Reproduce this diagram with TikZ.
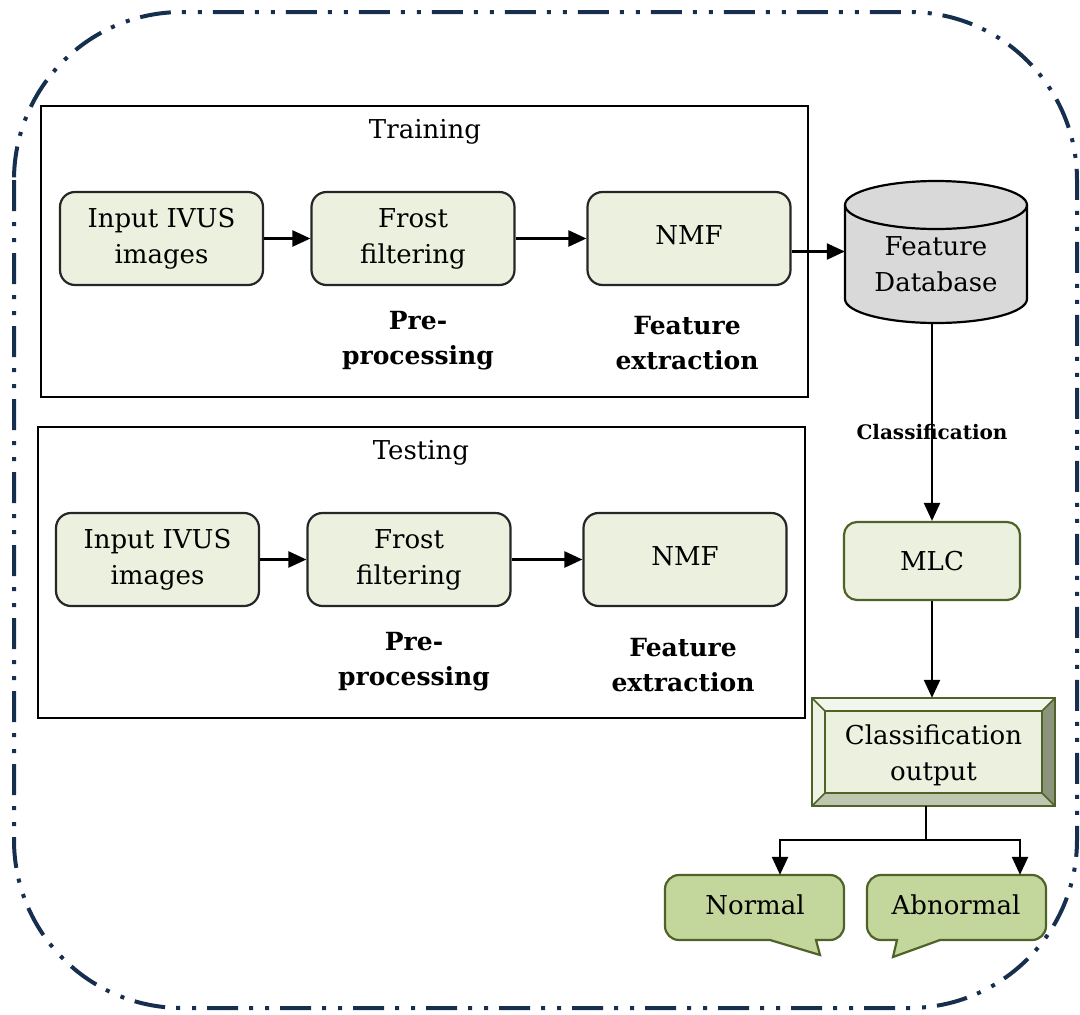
\documentclass[tikz,border=0pt]{standalone}
\usepackage{fontspec}
\setmainfont{DejaVu Serif}
\usetikzlibrary{arrows.meta}
\definecolor{navy}{HTML}{172F4F}
\definecolor{lightgreen}{HTML}{EBF1DE}
\definecolor{olive}{HTML}{4F6228}
\definecolor{calloutgreen}{HTML}{C3D69B}
\definecolor{dbgray}{HTML}{D9D9D9}
\definecolor{bevtop}{HTML}{F3F6EC}
\definecolor{bevleft}{HTML}{EFF3E6}
\definecolor{bevright}{HTML}{8C947E}
\definecolor{bevbottom}{HTML}{BEC6AF}
\begin{document}
\begin{tikzpicture}[x=1pt,y=-1pt,
  txt/.style={font=\fontsize{26}{36}\selectfont, align=center, inner sep=0pt},
  bold/.style={font=\fontsize{25}{35}\selectfont\bfseries, align=center, inner sep=0pt},
  procbox/.style={txt, draw=black!85, line width=2.2pt, fill=lightgreen, rounded corners=15pt, minimum width=203pt, minimum height=93pt},
  frame/.style={draw=black, line width=2pt, minimum width=767pt, minimum height=291pt, inner sep=0pt},
  arr/.style={line width=2.4pt, -{Triangle[length=18pt,width=16pt]}},
  ln/.style={line width=2.4pt},
  callout/.style={draw=olive, line width=2.2pt, fill=calloutgreen},
]
\useasboundingbox (0,0) rectangle (1080,1015);

% outer dash-dot-dot border
\draw[navy, line width=4pt, rounded corners=168pt,
  dash pattern=on 31pt off 11pt on 4pt off 12pt on 4pt off 11pt]
  (14,12) rectangle (1077,1008);

% frames
\node[frame] (train) at (424.5,251.5) {};
\node[txt] (traintitle) at (425,132) {Training};
\node[frame] (test) at (421,572.5) {};
\node[txt] (testtitle) at (421,453) {Testing};

% training row
\node[procbox] (in1) at (161.5,238.5) {Input IVUS\\images};
\node[procbox] (fr1) at (413,238.5) {Frost\\filtering};
\node[procbox] (nmf1) at (689,238.5) {\raisebox{6pt}{NMF}};
\node[bold] (pre1) at (418,340.5) {Pre-\\processing};
\node[bold] (fe1) at (687,343.5) {Feature\\extraction};
\draw[arr] (in1) -- (fr1);
\draw[arr] (fr1) -- (nmf1);

% testing row
\node[procbox] (in2) at (157.5,559.5) {Input IVUS\\images};
\node[procbox] (fr2) at (409,559.5) {Frost\\filtering};
\node[procbox] (nmf2) at (685,559.5) {\raisebox{6pt}{NMF}};
\node[bold] (pre2) at (414,661.5) {Pre-\\processing};
\node[bold] (fe2) at (683,665) {Feature\\extraction};
\draw[arr] (in2) -- (fr2);
\draw[arr] (fr2) -- (nmf2);

% database cylinder
\node[minimum width=182pt, minimum height=143pt, inner sep=0pt] (db) at (936,251.5) {};
\path[draw=black, line width=2.2pt, fill=dbgray]
  (845,205) -- (845,299) arc[start angle=180, end angle=0, x radius=91, y radius=24]
  -- (1027,205) arc[start angle=0, end angle=-180, x radius=91, y radius=24] -- cycle;
\draw[black, line width=2.2pt] (845,205) arc[start angle=180, end angle=0, x radius=91, y radius=24];
\node[txt] (dbtxt) at (936,264) {Feature\\Database};
\draw[arr] (nmf1.east |- db.west) -- (db.west);

% classification
\node[font=\fontsize{20}{24}\selectfont\bfseries, inner sep=0pt] (cls) at (932,432) {Classification};
\node[txt, draw=olive, line width=2.2pt, fill=lightgreen, rounded corners=13pt, minimum width=176pt, minimum height=78pt] (mlc) at (932,561) {MLC};
\draw[ln] (db.south -| cls.north) -- ([yshift=-10pt]cls.north);
\draw[arr] ([yshift=10pt]cls.south) -- (cls.south |- mlc.north);

% bevel box
\node[minimum width=243pt, minimum height=108pt, inner sep=0pt] (cout) at (933.5,752) {};
\fill[bevtop] (812,698) -- (1055,698) -- (1042,711) -- (825,711) -- cycle;
\fill[bevleft] (812,698) -- (825,711) -- (825,793) -- (812,806) -- cycle;
\fill[bevright] (1055,698) -- (1055,806) -- (1042,793) -- (1042,711) -- cycle;
\fill[bevbottom] (812,806) -- (825,793) -- (1042,793) -- (1055,806) -- cycle;
\fill[lightgreen] (825,711) rectangle (1042,793);
\draw[olive, line width=1.6pt] (825,711) rectangle (1042,793)
  (812,698) -- (825,711) (1055,698) -- (1042,711) (812,806) -- (825,793) (1055,806) -- (1042,793);
\draw[olive, line width=2.4pt] (812,698) rectangle (1055,806);
\node[txt] (couttxt) at (933.5,755) {Classification\\output};
\draw[arr] (mlc.south) -- (mlc.south |- cout.north);

% outputs
\node[minimum width=179pt, minimum height=65pt, inner sep=0pt] (normal) at (754.5,907.5) {};
\node[minimum width=179pt, minimum height=65pt, inner sep=0pt] (abnormal) at (956.5,907.5) {};
\path[callout] (770,940) -- (820,955) -- (816,940) [rounded corners=14pt] -- (844,940) -- (844,875) -- (665,875) -- (665,940) [sharp corners] -- cycle;
\path[callout] (940,940) -- (893,957) -- (897,940) [rounded corners=14pt] -- (867,940) -- (867,875) -- (1046,875) -- (1046,940) [sharp corners] -- cycle;
\node[txt] (normaltxt) at (755,905) {Normal};
\node[txt] (abnormaltxt) at (956,905) {Abnormal};
\coordinate (split) at (926,840);
\draw[ln] (cout.south -| split) -- (split);
\draw[arr] (split) -| ([xshift=25.5pt]normal.north);
\draw[arr] (split) -| ([xshift=63.5pt]abnormal.north);
\end{tikzpicture}
\end{document}
